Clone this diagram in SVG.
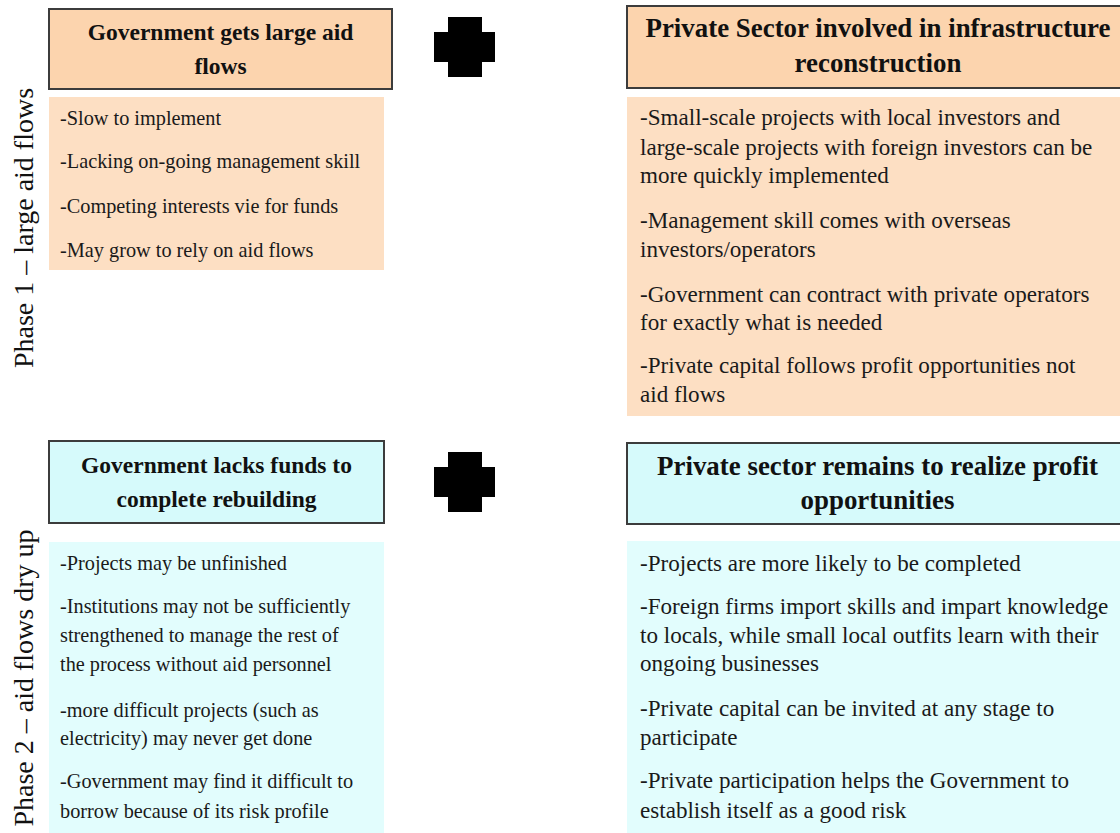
<svg xmlns="http://www.w3.org/2000/svg" width="1120" height="833" viewBox="0 0 1120 833">
  <style>
    .hdr-warm { fill: #fcd4ae; stroke: #3c3c3c; stroke-width: 2; }
    .hdr-cool { fill: #d6fafb; stroke: #3c3c3c; stroke-width: 2; }
    .body-warm { fill: #fddfc3; }
    .body-cool { fill: #e2fdfd; }
    .title { font-family: "Liberation Serif", "Times New Roman", serif; font-weight: bold; font-size: 23.5px; fill: #111; text-anchor: middle; }
    .title.wide { font-size: 26.9px; }
    .item { font-family: "Liberation Serif", "Times New Roman", serif; font-size: 20.3px; fill: #1a1a1a; }
    .item.wide { font-size: 23.1px; }
    .phase { font-family: "Liberation Serif", "Times New Roman", serif; font-size: 28px; fill: #111; text-anchor: middle; }
    .plus { fill: #000; }
  </style>
  <defs>
    <path id="plus-shape" d="M14 0 H48 V15 H61 V45 H48 V60 H14 V45 H0 V15 H14 Z"/>
  </defs>
  <rect width="1120" height="833" fill="#ffffff"/>

  <!-- phase labels along the left edge -->
  <g id="phase1-label">
    <text class="phase" transform="translate(33,228) rotate(-90)">Phase 1 – large aid flows</text>
  </g>
  <g id="phase2-label">
    <text class="phase" transform="translate(33,678) rotate(-90)">Phase 2 – aid flows dry up</text>
  </g>

  <!-- phase 1: government -->
  <g id="gov-aid">
    <rect class="hdr-warm" x="49" y="9" width="343" height="80"/>
    <text class="title" x="220.5" y="40">Government gets large aid</text>
    <text class="title" x="220.5" y="74">flows</text>
  </g>
  <g id="gov-aid-points">
    <rect class="body-warm" x="49" y="97" width="335" height="173"/>
    <text class="item" x="60" y="125">-Slow to implement</text>
    <text class="item" x="60" y="168">-Lacking on-going management skill</text>
    <text class="item" x="60" y="213">-Competing interests vie for funds</text>
    <text class="item" x="60" y="257">-May grow to rely on aid flows</text>
  </g>

  <!-- phase 1: private sector -->
  <g id="private-reconstruction">
    <rect class="hdr-warm" x="627" y="6" width="510" height="82"/>
    <text class="title wide" x="878" y="37">Private Sector involved in infrastructure</text>
    <text class="title wide" x="878" y="72">reconstruction</text>
  </g>
  <g id="private-reconstruction-points">
    <rect class="body-warm" x="627" y="97" width="500" height="319"/>
    <text class="item wide" x="640" y="125">-Small-scale projects with local investors and</text>
    <text class="item wide" x="640" y="155">large-scale projects with foreign investors can be</text>
    <text class="item wide" x="640" y="183">more quickly implemented</text>
    <text class="item wide" x="640" y="228">-Management skill comes with overseas</text>
    <text class="item wide" x="640" y="257">investors/operators</text>
    <text class="item wide" x="640" y="302">-Government can contract with private operators</text>
    <text class="item wide" x="640" y="330">for exactly what is needed</text>
    <text class="item wide" x="640" y="373">-Private capital follows profit opportunities not</text>
    <text class="item wide" x="640" y="402">aid flows</text>
  </g>

  <!-- phase 2: government -->
  <g id="gov-lacks-funds">
    <rect class="hdr-cool" x="49" y="441" width="335" height="82"/>
    <text class="title" x="216.5" y="473">Government lacks funds to</text>
    <text class="title" x="216.5" y="507">complete rebuilding</text>
  </g>
  <g id="gov-lacks-funds-points">
    <rect class="body-cool" x="49" y="542" width="335" height="291"/>
    <text class="item" x="60" y="570">-Projects may be unfinished</text>
    <text class="item" x="60" y="613">-Institutions may not be sufficiently</text>
    <text class="item" x="60" y="642">strengthened to manage the rest of</text>
    <text class="item" x="60" y="671">the process without aid personnel</text>
    <text class="item" x="60" y="717">-more difficult projects (such as</text>
    <text class="item" x="60" y="745">electricity) may never get done</text>
    <text class="item" x="60" y="788">-Government may find it difficult to</text>
    <text class="item" x="60" y="818">borrow because of its risk profile</text>
  </g>

  <!-- phase 2: private sector -->
  <g id="private-remains">
    <rect class="hdr-cool" x="627" y="443" width="510" height="81"/>
    <text class="title wide" x="877.5" y="475">Private sector remains to realize profit</text>
    <text class="title wide" x="877.5" y="509">opportunities</text>
  </g>
  <g id="private-remains-points">
    <rect class="body-cool" x="627" y="541" width="500" height="292"/>
    <text class="item wide" x="640" y="571">-Projects are more likely to be completed</text>
    <text class="item wide" x="640" y="614">-Foreign firms import skills and impart knowledge</text>
    <text class="item wide" x="640" y="643">to locals, while small local outfits learn with their</text>
    <text class="item wide" x="640" y="671">ongoing businesses</text>
    <text class="item wide" x="640" y="716">-Private capital can be invited at any stage to</text>
    <text class="item wide" x="640" y="745">participate</text>
    <text class="item wide" x="640" y="788">-Private participation helps the Government to</text>
    <text class="item wide" x="640" y="818">establish itself as a good risk</text>
  </g>

  <!-- plus signs joining the two columns -->
  <g id="connectors">
    <use class="plus" href="#plus-shape" x="434" y="17"/>
    <use class="plus" href="#plus-shape" x="434" y="452"/>
  </g>
</svg>
